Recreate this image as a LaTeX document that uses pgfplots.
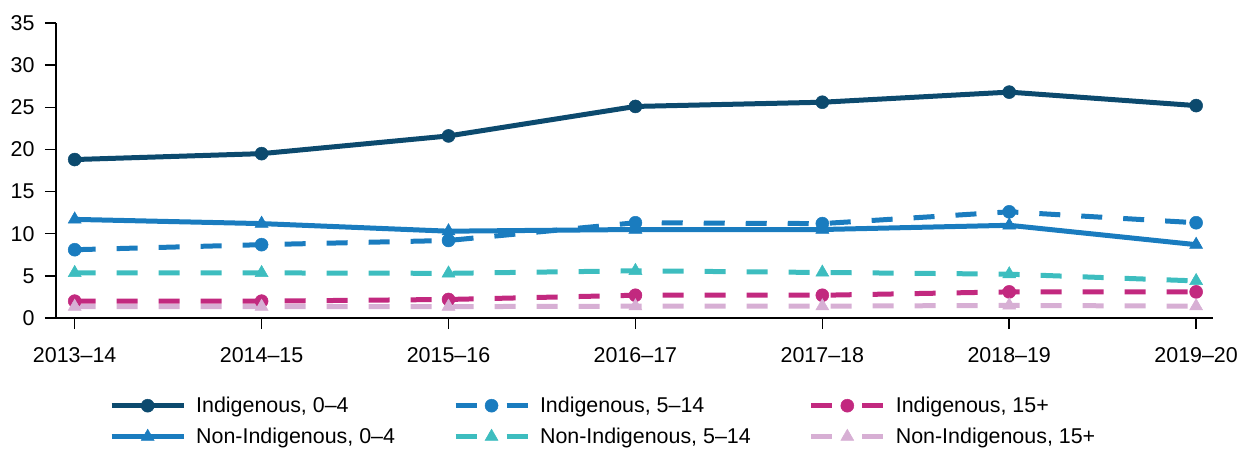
\documentclass[border=0pt]{standalone}
\usepackage{fontspec}
\setmainfont{Liberation Sans}
\usepackage{pgfplots}
\pgfplotsset{compat=1.18}
\definecolor{cA}{HTML}{0C4A6E}
\definecolor{cB}{HTML}{1A7CBF}
\definecolor{cC}{HTML}{C2297F}
\definecolor{cD}{HTML}{3DBDBF}
\definecolor{cE}{HTML}{D7AFD4}
\pgfplotsset{
  solidleg/.style={legend image code/.code={
    \draw[##1,mark repeat=2,mark phase=2] plot coordinates {(0bp,0bp)(36bp,0bp)(72bp,0bp)};}},
  dashleg/.style={legend image code/.code={
    \draw[##1,mark repeat=2,mark phase=2,dash pattern=on 21bp off 30bp] plot coordinates {(0bp,0bp)(36bp,0bp)(72bp,0bp)};}},
}
\begin{document}
\begin{tikzpicture}
\useasboundingbox (-56bp,-132bp) rectangle (1185bp,318bp);
\begin{axis}[
  at={(0,0)}, anchor=south west,
  scale only axis, width=1157bp, height=295bp,
  xmin=-0.1, xmax=6.09, ymin=0, ymax=35,
  axis x line*=bottom, axis y line*=left,
  axis line style={line width=1.5bp, black},
  xtick={0,...,6},
  xticklabels={2013--14,2014--15,2015--16,2016--17,2017--18,2018--19,2019--20},
  ytick={0,5,...,35},
  tick align=outside, major tick length=11bp,
  tick style={black, line width=1.5bp},
  font=\fontsize{21.5}{25}\selectfont,
  xticklabel style={yshift=-15bp},
  yticklabel style={xshift=-7bp},
  /pgf/number format/assume math mode=true,
  every axis plot/.append style={line width=5bp},
  legend columns=3,
  legend cell align=left,
  legend style={draw=none, fill=none, at={(axis description cs:0,0)}, anchor=north west,
    xshift=50bp, yshift=-75bp,
    /tikz/every odd column/.append style={column sep=8bp},
    /tikz/every even column/.append style={column sep=56bp},
    row sep=10bp, font=\fontsize{21.5}{25}\selectfont},
]
\addplot[cA, solidleg, mark=*, mark size=6.5bp, mark options={solid, line width=0.5bp, fill=cA}] coordinates {
(0,18.8)(1,19.5)(2,21.6)(3,25.1)(4,25.6)(5,26.8)(6,25.2)};
\addlegendentry{Indigenous, 0--4}
\addplot[cB, dashleg, dash pattern=on 21bp off 21bp, mark=*, mark size=6.5bp, mark options={solid, line width=0.5bp, fill=cB}] coordinates {
(0,8.1)(1,8.7)(2,9.2)(3,11.3)(4,11.2)(5,12.6)(6,11.3)};
\addlegendentry{Indigenous, 5--14}
\addplot[cC, dashleg, dash pattern=on 21bp off 21bp, mark=*, mark size=6.5bp, mark options={solid, line width=0.5bp, fill=cC}] coordinates {
(0,2.0)(1,2.0)(2,2.2)(3,2.7)(4,2.7)(5,3.1)(6,3.1)};
\addlegendentry{Indigenous, 15+}
\addplot[cB, solidleg, mark=triangle*, mark size=7.5bp, mark options={solid, line width=0.5bp, fill=cB}] coordinates {
(0,11.7)(1,11.2)(2,10.3)(3,10.5)(4,10.5)(5,11.0)(6,8.7)};
\addlegendentry{Non-Indigenous, 0--4}
\addplot[cD, dashleg, dash pattern=on 21bp off 21bp, mark=triangle*, mark size=7.5bp, mark options={solid, line width=0.5bp, fill=cD}] coordinates {
(0,5.35)(1,5.35)(2,5.3)(3,5.6)(4,5.4)(5,5.2)(6,4.4)};
\addlegendentry{Non-Indigenous, 5--14}
\addplot[cE, dashleg, dash pattern=on 21bp off 21bp, mark=triangle*, mark size=7.5bp, mark options={solid, line width=0.5bp, fill=cE}] coordinates {
(0,1.35)(1,1.35)(2,1.35)(3,1.4)(4,1.4)(5,1.5)(6,1.4)};
\addlegendentry{Non-Indigenous, 15+}
\end{axis}
\end{tikzpicture}
\end{document}
